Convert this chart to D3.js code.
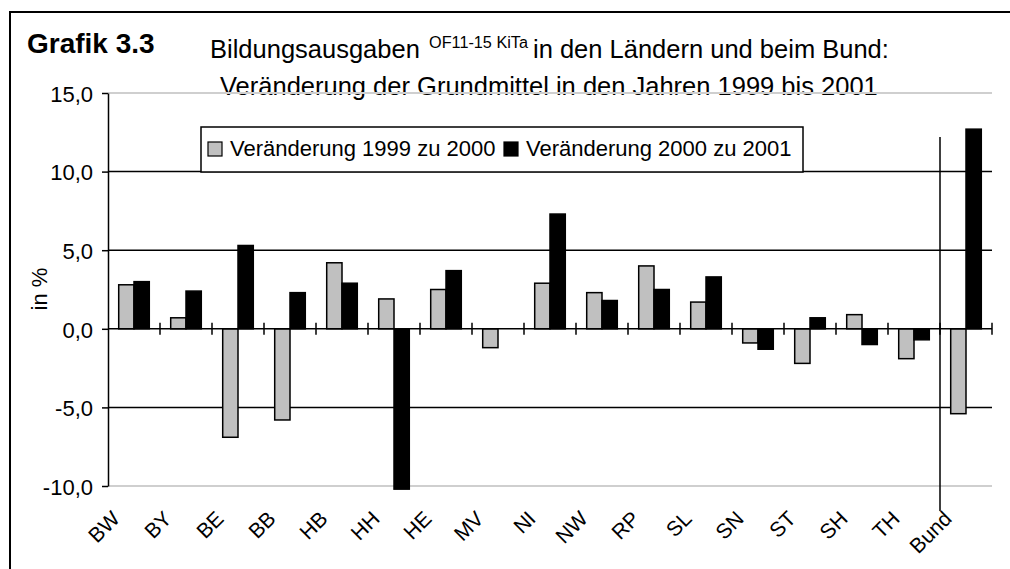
<!DOCTYPE html>
<html>
<head>
<meta charset="utf-8">
<script src="https://cdn.jsdelivr.net/npm/d3@7/dist/d3.min.js"></script>
<style>
  html, body { margin: 0; padding: 0; background: #fff; overflow: hidden; }
  svg { display: block; overflow: hidden; }
  text { font-family: "Liberation Sans", Arial, sans-serif; fill: #000; }
</style>
</head>
<body>
<svg id="chart" width="1010" height="569"></svg>
<script>
// ---- data ----
const categories = ["BW","BY","BE","BB","HB","HH","HE","MV","NI","NW","RP","SL","SN","ST","SH","TH","Bund"];
const seriesNames = ["Veränderung 1999 zu 2000", "Veränderung 2000 zu 2001"];
const change1999to2000 = [2.8, 0.7, -6.9, -5.8, 4.2, 1.9, 2.5, -1.2, 2.9, 2.3, 4.0, 1.7, -0.9, -2.2, 0.9, -1.9, -5.4];
const change2000to2001 = [3.0, 2.4, 5.3, 2.3, 2.9, -10.2, 3.7, 0.0, 7.3, 1.8, 2.5, 3.3, -1.3, 0.7, -1.0, -0.7, 12.7];
const yTicks = [-10, -5, 0, 5, 10, 15];
const titleMain = "Grafik 3.3";
const titleLine1a = "Bildungsausgaben";
const titleSup = "OF11-15 KiTa";
const titleLine1b = "in den Ländern und beim Bund:";
const titleLine2 = "Veränderung der Grundmittel in den Jahren 1999 bis 2001";
const yLabel = "in %";

// ---- layout ----
const svg = d3.select("#chart");
const plot = { left: 108, right: 992, top: 93, bottom: 486 };
const colors = ["#c0c0c0", "#000000"];

const x = d3.scaleBand().domain(categories).range([plot.left, plot.right]).padding(0);
const x1 = d3.scaleBand().domain(seriesNames).range([0, x.bandwidth()]).paddingInner(0).paddingOuter(0.7);
const y = d3.scaleLinear().domain([-10, 15]).range([plot.bottom, plot.top]);

const locale = d3.formatLocale({ decimal: ",", thousands: ".", grouping: [3], currency: ["", "€"], minus: "-" });
const fmt = locale.format(".1f");

// frame (top and left edges only; the rest is outside the picture)
svg.append("line").attr("x1", 10).attr("x2", 1010).attr("y1", 12).attr("y2", 12)
  .attr("stroke", "#000").attr("stroke-width", 2);
svg.append("line").attr("x1", 10).attr("x2", 10).attr("y1", 11).attr("y2", 569)
  .attr("stroke", "#000").attr("stroke-width", 2);

// titles
svg.append("text").attr("x", 27).attr("y", 53).attr("font-size", 28).attr("font-weight", "bold").text(titleMain);
svg.append("text").attr("x", 210).attr("y", 58).attr("font-size", 25.5).text(titleLine1a);
svg.append("text").attr("x", 429).attr("y", 47.5).attr("font-size", 16)
  .style("font-family", "'Liberation Sans Narrow', 'Arial Narrow', 'Liberation Sans', sans-serif")
  .attr("textLength", 99).attr("lengthAdjust", "spacingAndGlyphs").text(titleSup);
svg.append("text").attr("x", 533).attr("y", 58).attr("font-size", 25.5).text(titleLine1b);
svg.append("text").attr("x", 220).attr("y", 95).attr("font-size", 25.5).text(titleLine2);

// gridlines
const grid = svg.append("g");
grid.selectAll("line").data(yTicks.filter(d => d !== 0)).join("line")
  .attr("x1", plot.left).attr("x2", plot.right)
  .attr("y1", d => y(d)).attr("y2", d => y(d))
  .attr("stroke", d => (d === 15 || d === -10) ? "#cfcfcf" : "#000")
  .attr("stroke-width", d => (d === 15 || d === -10) ? 2 : 1.5);

// legend
const leg = svg.append("g");
leg.append("rect").attr("x", 201).attr("y", 127).attr("width", 602).attr("height", 45)
  .attr("fill", "#fff").attr("stroke", "#000").attr("stroke-width", 1.5);
const legX = [208, 504];
seriesNames.forEach((s, i) => {
  leg.append("rect").attr("x", legX[i]).attr("y", 142).attr("width", 14).attr("height", 14)
    .attr("fill", colors[i]).attr("stroke", "#000").attr("stroke-width", 1.2);
  leg.append("text").attr("x", legX[i] + 22).attr("y", 156).attr("font-size", 22).text(s);
});

// bars
const rows = categories.map((c, i) => ({ cat: c, vals: [change1999to2000[i], change2000to2001[i]] }));
const groups = svg.append("g").selectAll("g").data(rows).join("g")
  .attr("transform", d => `translate(${x(d.cat)},0)`);
groups.selectAll("rect").data(d => d.vals.map((v, j) => ({ s: seriesNames[j], v, j }))).join("rect")
  .attr("x", d => x1(d.s))
  .attr("width", x1.bandwidth())
  .attr("y", d => y(Math.max(0, d.v)))
  .attr("height", d => Math.abs(y(d.v) - y(0)))
  .attr("fill", d => colors[d.j])
  .attr("stroke", "#000").attr("stroke-width", 1.5);

// y axis
const yAxis = d3.axisLeft(y).tickValues(yTicks).tickFormat(d => fmt(d)).tickSize(6).tickSizeOuter(0).tickPadding(9);
const yg = svg.append("g").attr("transform", `translate(${plot.left},0)`).call(yAxis);
yg.select(".domain").attr("stroke", "#000").attr("stroke-width", 1.5);
yg.selectAll(".tick line").attr("stroke", "#000").attr("stroke-width", 1.5);
yg.selectAll(".tick text").attr("font-size", 22).attr("font-family", "'Liberation Sans', Arial, sans-serif").attr("dy", "0.38em");

// zero axis line with boundary ticks
const y0 = y(0);
svg.append("line").attr("x1", plot.left).attr("x2", plot.right).attr("y1", y0).attr("y2", y0)
  .attr("stroke", "#000").attr("stroke-width", 1.5);
const bounds = categories.slice(1).map(c => x(c)).concat([plot.right]);
svg.append("g").selectAll("line").data(bounds).join("line")
  .attr("x1", d => d).attr("x2", d => d).attr("y1", y0 - 6).attr("y2", y0 + 6)
  .attr("stroke", "#000").attr("stroke-width", 1.5);

// separator before Bund
svg.append("line").attr("x1", x("Bund")).attr("x2", x("Bund")).attr("y1", 137).attr("y2", 511)
  .attr("stroke", "#000").attr("stroke-width", 1.5);

// x labels
svg.append("g").selectAll("text").data(categories).join("text")
  .attr("transform", d => `translate(${x(d) + x.bandwidth() / 2 - 13},520) rotate(-45)`)
  .attr("text-anchor", "end").attr("font-size", 21).text(d => d);

// y label
svg.append("text").attr("transform", "translate(46.5,289) rotate(-90)")
  .attr("text-anchor", "middle").attr("font-size", 22).text(yLabel);
</script>
</body>
</html>
